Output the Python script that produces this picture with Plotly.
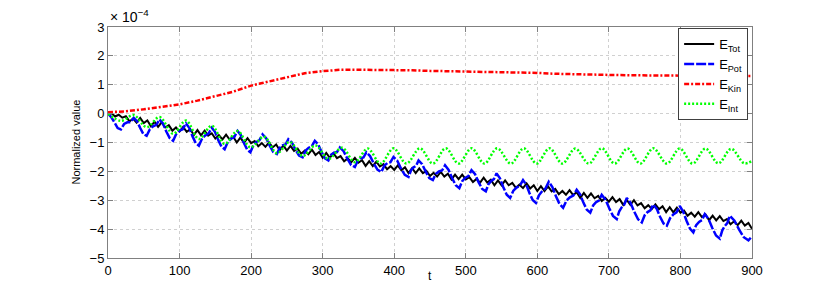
import plotly.graph_objects as go

# ---------------- data (values in units of 1e-4) ----------------
t_tot = list(range(0, 901, 5))
e_tot = [0.00, 0.01, -0.10, -0.04, -0.14, -0.09, -0.27, -0.17, -0.31, -0.15, -0.33, -0.24, -0.44,
         -0.28, -0.46, -0.30, -0.48, -0.40, -0.59, -0.48, -0.62, -0.46, -0.63, -0.54, -0.74,
         -0.57, -0.75, -0.59, -0.76, -0.68, -0.86, -0.75, -0.89, -0.73, -0.90, -0.80, -1.00,
         -0.83, -1.01, -0.85, -1.02, -0.95, -1.13, -1.02, -1.15, -1.00, -1.17, -1.07, -1.27,
         -1.10, -1.28, -1.12, -1.29, -1.21, -1.39, -1.28, -1.41, -1.25, -1.43, -1.33, -1.53,
         -1.36, -1.53, -1.37, -1.54, -1.47, -1.65, -1.55, -1.68, -1.53, -1.70, -1.61, -1.81,
         -1.65, -1.82, -1.66, -1.83, -1.75, -1.93, -1.82, -1.95, -1.79, -1.96, -1.86, -2.06,
         -1.89, -2.06, -1.90, -2.06, -1.98, -2.16, -2.05, -2.18, -2.02, -2.18, -2.08, -2.28,
         -2.11, -2.27, -2.11, -2.28, -2.20, -2.37, -2.26, -2.39, -2.22, -2.39, -2.29, -2.48,
         -2.31, -2.48, -2.31, -2.48, -2.40, -2.57, -2.46, -2.58, -2.42, -2.59, -2.48, -2.68,
         -2.51, -2.68, -2.52, -2.69, -2.61, -2.79, -2.68, -2.81, -2.65, -2.82, -2.72, -2.92,
         -2.75, -2.92, -2.76, -2.93, -2.85, -3.03, -2.92, -3.05, -2.89, -3.06, -2.96, -3.16,
         -2.99, -3.16, -3.00, -3.18, -3.10, -3.28, -3.17, -3.30, -3.14, -3.31, -3.21, -3.41,
         -3.24, -3.42, -3.26, -3.43, -3.36, -3.54, -3.43, -3.57, -3.41, -3.58, -3.49, -3.69,
         -3.53, -3.70, -3.55, -3.72, -3.65, -3.83, -3.73, -3.86, -3.71, -3.88, -3.79, -3.99]

t_pot = [0, 4.5, 9, 13.5, 18, 22.5, 27, 31.5, 36, 40.5, 45, 49.5, 54, 58.5, 63, 67.5, 72,
         76.75, 81.5, 86.25, 91, 95.5, 100, 104.5, 109, 113.5, 118, 122.5, 127, 131.5, 136,
         140.5, 145, 149.5, 154, 158.5, 163, 167.5, 172, 176.5, 181, 185.5, 190, 194.5, 199,
         203.25, 207.5, 211.75, 216, 221, 226, 231, 236, 240, 244, 248, 252, 257, 262, 267,
         272, 276.25, 280.5, 284.75, 289, 293.75, 298.5, 303.25, 308, 312, 316, 320, 324,
         329.25, 334.5, 339.75, 345, 349, 353, 357, 361, 366.25, 371.5, 376.75, 382, 386.25,
         390.5, 394.75, 399, 404.25, 409.5, 414.75, 420, 423.5, 427, 430.5, 434, 439, 444,
         449, 454, 458.25, 462.5, 466.75, 471, 476, 481, 486, 491, 495.25, 499.5, 503.75,
         508, 513, 518, 523, 528, 531.75, 535.5, 539.25, 543, 547.75, 552.5, 557.25, 562,
         566.5, 571, 575.5, 580, 584.5, 589, 593.5, 598, 602.5, 607, 611.5, 616, 621, 626,
         631, 636, 640.75, 645.5, 650.25, 655, 659.75, 664.5, 669.25, 674, 678, 682, 686,
         690, 695.25, 700.5, 705.75, 711, 714.5, 718, 721.5, 725, 730.25, 735.5, 740.75,
         746, 750, 754, 758, 762, 766.75, 771.5, 776.25, 781, 785.5, 790, 794.5, 799,
         803.75, 808.5, 813.25, 818, 822, 826, 830, 834, 839.25, 844.5, 849.75, 855, 858.5,
         862, 865.5, 869, 875.5, 882, 888.5, 895, 897.5, 900]
e_pot = [0.00, -0.12, -0.30, -0.50, -0.55, -0.36, -0.30, -0.30, -0.15, -0.26, -0.50, -0.71,
         -0.77, -0.54, -0.44, -0.39, -0.20, -0.34, -0.62, -0.85, -0.94, -0.70, -0.59, -0.54,
         -0.34, -0.49, -0.78, -1.02, -1.11, -0.86, -0.75, -0.69, -0.49, -0.63, -0.91, -1.14,
         -1.23, -0.98, -0.87, -0.81, -0.60, -0.74, -1.02, -1.25, -1.34, -1.09, -0.98, -0.92,
         -0.72, -0.85, -1.11, -1.33, -1.40, -1.18, -1.10, -1.07, -0.89, -1.00, -1.25, -1.45,
         -1.51, -1.28, -1.18, -1.13, -0.94, -1.07, -1.33, -1.55, -1.62, -1.42, -1.35, -1.33,
         -1.17, -1.30, -1.56, -1.78, -1.85, -1.63, -1.55, -1.52, -1.34, -1.47, -1.73, -1.95,
         -2.02, -1.80, -1.71, -1.68, -1.50, -1.63, -1.90, -2.12, -2.19, -1.96, -1.86, -1.81,
         -1.62, -1.75, -2.01, -2.23, -2.30, -2.08, -2.00, -1.97, -1.79, -1.95, -2.24, -2.48,
         -2.58, -2.33, -2.22, -2.16, -1.96, -2.10, -2.38, -2.61, -2.69, -2.44, -2.33, -2.27,
         -2.07, -2.24, -2.55, -2.81, -2.92, -2.67, -2.56, -2.50, -2.30, -2.46, -2.75, -2.99,
         -3.09, -2.82, -2.68, -2.59, -2.36, -2.54, -2.86, -3.13, -3.26, -3.01, -2.90, -2.84,
         -2.64, -2.80, -3.09, -3.33, -3.43, -3.18, -3.07, -3.01, -2.81, -2.98, -3.28, -3.54,
         -3.65, -3.38, -3.24, -3.15, -2.92, -3.09, -3.40, -3.66, -3.77, -3.52, -3.41, -3.35,
         -3.15, -3.29, -3.57, -3.80, -3.88, -3.62, -3.49, -3.42, -3.20, -3.39, -3.71, -3.98,
         -4.11, -3.86, -3.75, -3.69, -3.48, -3.65, -3.96, -4.22, -4.33, -4.04, -3.89, -3.79,
         -3.54, -3.71, -4.02, -4.28, -4.39, -4.30, -4.25]

t_kin = list(range(0, 901, 25))
e_kin = [0.05, 0.08, 0.15, 0.23, 0.32, 0.45, 0.60, 0.76, 0.97, 1.12, 1.27, 1.40, 1.47,
         1.52, 1.52, 1.52, 1.51, 1.50, 1.48, 1.47, 1.46, 1.45, 1.45, 1.44, 1.41, 1.38,
         1.36, 1.35, 1.34, 1.33, 1.33, 1.32, 1.32, 1.31, 1.30, 1.30, 1.30]

t_int = [0, 18, 36, 54, 72, 91, 109, 127, 145, 163, 181, 199, 218, 236, 254, 272, 290, 308,
         327, 345, 363, 381, 399, 417, 436, 454, 472, 490, 508, 526, 544, 563, 581, 599, 617,
         635, 653, 672, 690, 708, 726, 744, 762, 781, 799, 817, 835, 853, 871, 889, 900]
e_int = [0.00, -0.25, -0.05, -0.47, -0.12, -0.70, -0.24, -0.88, -0.42, -1.05, -0.60, -1.17,
         -0.80, -1.37, -0.98, -1.47, -1.10, -1.57, -1.18, -1.68, -1.21, -1.73, -1.20, -1.73,
         -1.20, -1.73, -1.20, -1.73, -1.20, -1.73, -1.20, -1.73, -1.20, -1.73, -1.20, -1.73,
         -1.21, -1.73, -1.20, -1.73, -1.21, -1.73, -1.20, -1.73, -1.21, -1.73, -1.21, -1.72,
         -1.22, -1.72, -1.64]

x_ticks = [0, 100, 200, 300, 400, 500, 600, 700, 800, 900]
y_ticks = [-5, -4, -3, -2, -1, 0, 1, 2, 3]
y_ticktext = ["\u22125", "\u22124", "\u22123", "\u22122", "\u22121", "0", "1", "2", "3"]

# ---------------- figure ----------------
FONT = "Liberation Sans, Arial, Helvetica, sans-serif"
fig = go.Figure()
fig.add_trace(go.Scatter(x=t_tot, y=e_tot, mode="lines", name="E<sub>Tot</sub>",
                         line=dict(color="#000000", width=2)))
fig.add_trace(go.Scatter(x=t_pot, y=e_pot, mode="lines", name="E<sub>Pot</sub>",
                         line=dict(color="#0000ff", width=2.5, dash="10px,2px")))
fig.add_trace(go.Scatter(x=t_kin, y=e_kin, mode="lines", name="E<sub>Kin</sub>",
                         line=dict(color="#ff0000", width=2.5, dash="5px,2px,2px,2px")))
fig.add_trace(go.Scatter(x=t_int, y=e_int, mode="lines", name="E<sub>Int</sub>",
                         line=dict(color="#00ff00", width=2.5, dash="2px,2px", shape="spline",
                                   smoothing=1.0)))

axis_common = dict(showline=True, mirror="ticks", linecolor="#808080", linewidth=1,
                   ticks="inside", ticklen=5, tickcolor="#808080",
                   showgrid=True, gridcolor="#d0d0d0", griddash="dot", gridwidth=1,
                   zeroline=False, tickfont=dict(family=FONT, size=13, color="#000000"))

fig.update_xaxes(range=[0, 900], tickvals=x_ticks, **axis_common)
fig.update_yaxes(range=[-5, 3], tickvals=y_ticks, ticktext=y_ticktext, **axis_common)

# the page body adds an 8px offset, so the figure is 8px smaller on each axis
fig.update_layout(
    width=822, height=283,
    margin=dict(l=100, r=78, t=14, b=33),
    paper_bgcolor="white", plot_bgcolor="white",
    font=dict(family=FONT, size=12, color="#000000"),
    showlegend=True,
    legend=dict(x=0.994, y=0.995, xanchor="right", yanchor="top",
                bgcolor="white", bordercolor="#404040", borderwidth=1,
                font=dict(family=FONT, size=13, color="#000000"),
                tracegroupgap=0, itemwidth=30),
    annotations=[
        dict(text="\u00d7 10<sup>\u22124</sup>", xref="paper", yref="paper", x=0, y=1,
             xanchor="left", yanchor="bottom", showarrow=False,
             font=dict(family=FONT, size=14, color="#000000")),
        dict(text="t", xref="paper", yref="paper", x=0.5, y=-0.08, xanchor="center",
             yanchor="middle", showarrow=False, font=dict(family=FONT, size=12, color="#000000")),
        dict(text="Normalized value", xref="paper", yref="paper", x=-0.0512, y=0.5,
             xanchor="center", yanchor="middle", textangle=-90, showarrow=False,
             font=dict(family=FONT, size=11, color="#000000")),
    ],
)

fig.write_html("out.html")
